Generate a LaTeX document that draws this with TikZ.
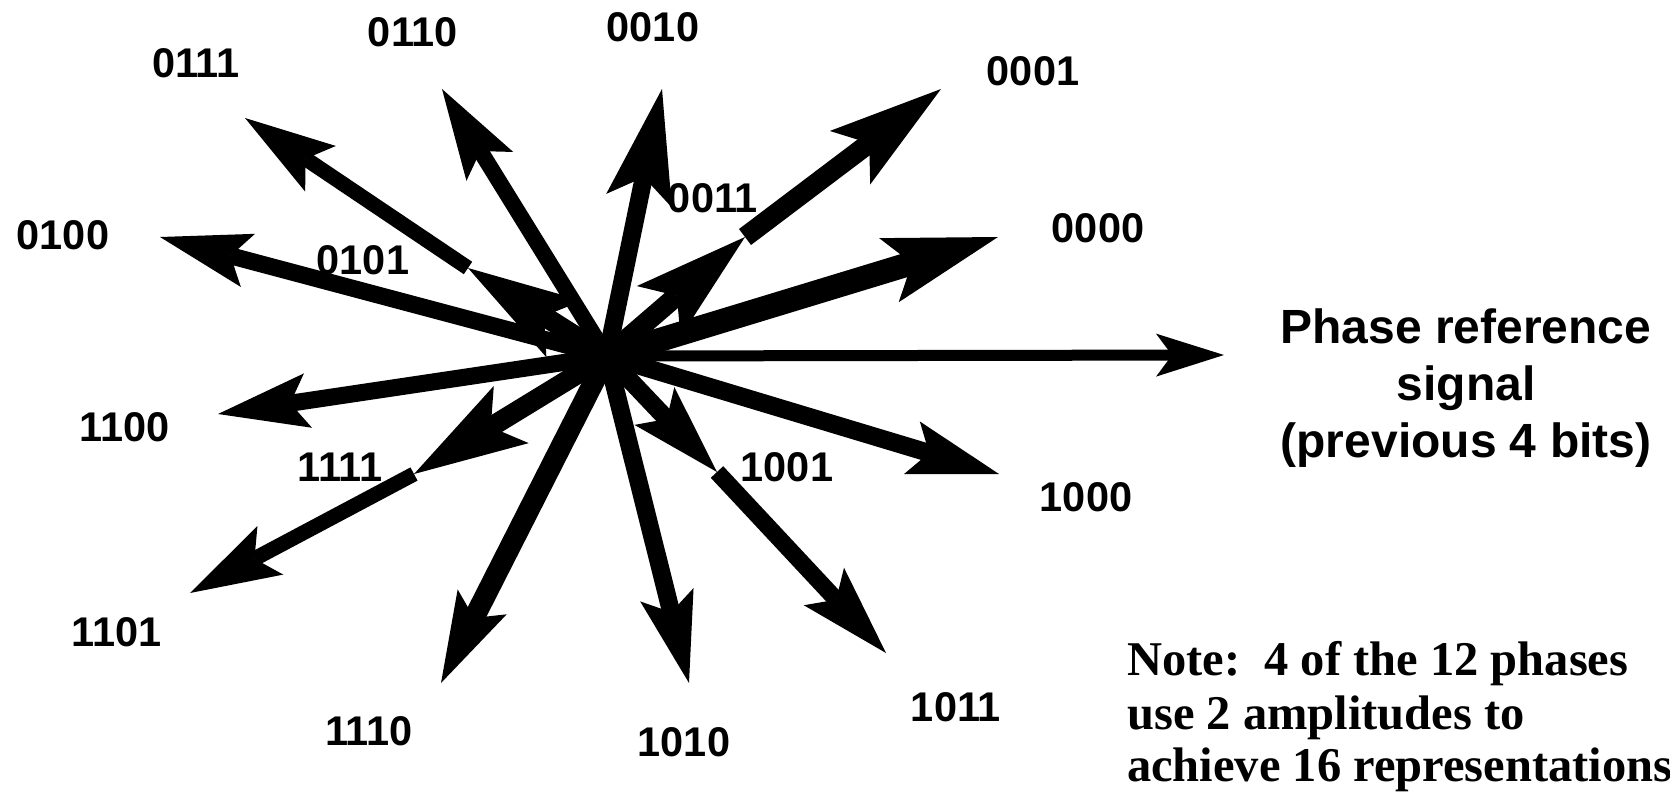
\documentclass[tikz,border=0pt]{standalone}
\usepackage{fontspec}
\setmainfont{Liberation Sans}
\newfontfamily\timesfont{Liberation Serif}
\usetikzlibrary{arrows.meta}
\begin{document}
\begin{tikzpicture}[x=1pt,y=-1pt,
  lbl/.style={font=\fontsize{41.5}{48}\selectfont\bfseries, inner sep=0pt, anchor=center},
  reftxt/.style={font=\fontsize{48}{56}\selectfont\bfseries, inner sep=0pt, anchor=base},
  notetxt/.style={font=\timesfont\fontsize{48.5}{56}\selectfont\bfseries\frenchspacing, inner sep=0pt, anchor=base west},
  arr/.style={line width=17pt, -{Stealth[length=91pt,width=55pt,inset=18pt,line width=0pt]}},
  bigarr/.style={line width=20pt, -{Stealth[length=114pt,width=67pt,inset=24pt,line width=0pt]}},
  refarr/.style={line width=11pt, -{Stealth[length=68pt,width=43pt,inset=16pt,line width=0pt]}},
]
\useasboundingbox (0,0) rectangle (1670,792);
% centre and tips
\coordinate (c) at (607,356);
\coordinate (ref) at (1224,355);
\coordinate (t0000) at (998,237);
\coordinate (t0011) at (745,237);
\coordinate (t0001) at (941,89);
\coordinate (t0010) at (662,89);
\coordinate (t0110) at (442,89);
\coordinate (t0101) at (468,268);
\coordinate (t0111) at (245,118);
\coordinate (t0100) at (160,237);
\coordinate (t1100) at (218,414);
\coordinate (t1111) at (414,474);
\coordinate (t1101) at (190,593);
\coordinate (t1110) at (441,683);
\coordinate (t1010) at (689,683);
\coordinate (t1001) at (717,472);
\coordinate (t1011) at (886,653);
\coordinate (t1000) at (999,474);
% arrows
\draw[refarr] (c) -- (ref);
\draw[bigarr, line width=24pt] (c) -- (t0000);
\draw[bigarr] (c) -- (t0011);
\draw[bigarr] (t0011) -- (t0001);
\draw[bigarr, line width=18pt] (c) -- (t0010);
\draw[arr, line width=16pt] (c) -- (t0110);
\draw[bigarr] (c) -- (t0101);
\draw[arr, line width=15pt] (t0101) -- (t0111);
\draw[arr] (c) -- (t0100);
\draw[arr] (c) -- (t1100);
\draw[bigarr] (c) -- (t1111);
\draw[arr, line width=15pt] (t1111) -- (t1101);
\draw[arr, line width=21pt] (c) -- (t1110);
\draw[arr, line width=18pt] (c) -- (t1010);
\draw[arr, line width=18pt] (c) -- (t1001);
\draw[arr] (t1001) -- (t1011);
\draw[arr, line width=18pt] (c) -- (t1000);
% labels
\node[lbl] (l0111) at (196,63) {0111};
\node[lbl] (l0110) at (413,32) {0110};
\node[lbl] (l0010) at (653,27) {0010};
\node[lbl] (l0001) at (1033,71) {0001};
\node[lbl] (l0011) at (713,198) {0011};
\node[lbl] (l0000) at (1098,228) {0000};
\node[lbl] (l0100) at (63,235) {0100};
\node[lbl] (l0101) at (363,260) {0101};
\node[lbl] (l1100) at (125,427) {1100};
\node[lbl] (l1111) at (340,467) {1111};
\node[lbl] (l1101) at (117,632) {1101};
\node[lbl] (l1110) at (369,731) {1110};
\node[lbl] (l1010) at (684,742) {1010};
\node[lbl] (l1011) at (956,707) {1011};
\node[lbl] (l1001) at (787,467) {1001};
\node[lbl] (l1000) at (1086,497) {1000};
% phase reference text
\node[reftxt] (ref1) at (1466,343) {Phase reference};
\node[reftxt] (ref2) at (1466,400) {signal};
\node[reftxt] (ref3) at (1466,457) {(previous 4 bits)};
% note
\node[notetxt] (n1) at (1127,675) {Note:\ \ 4 of the 12 phases};
\node[notetxt] (n2) at (1127,729) {use 2 amplitudes to};
\node[notetxt] (n3) at (1127,781) {achieve 16 representations};
\end{tikzpicture}
\end{document}
